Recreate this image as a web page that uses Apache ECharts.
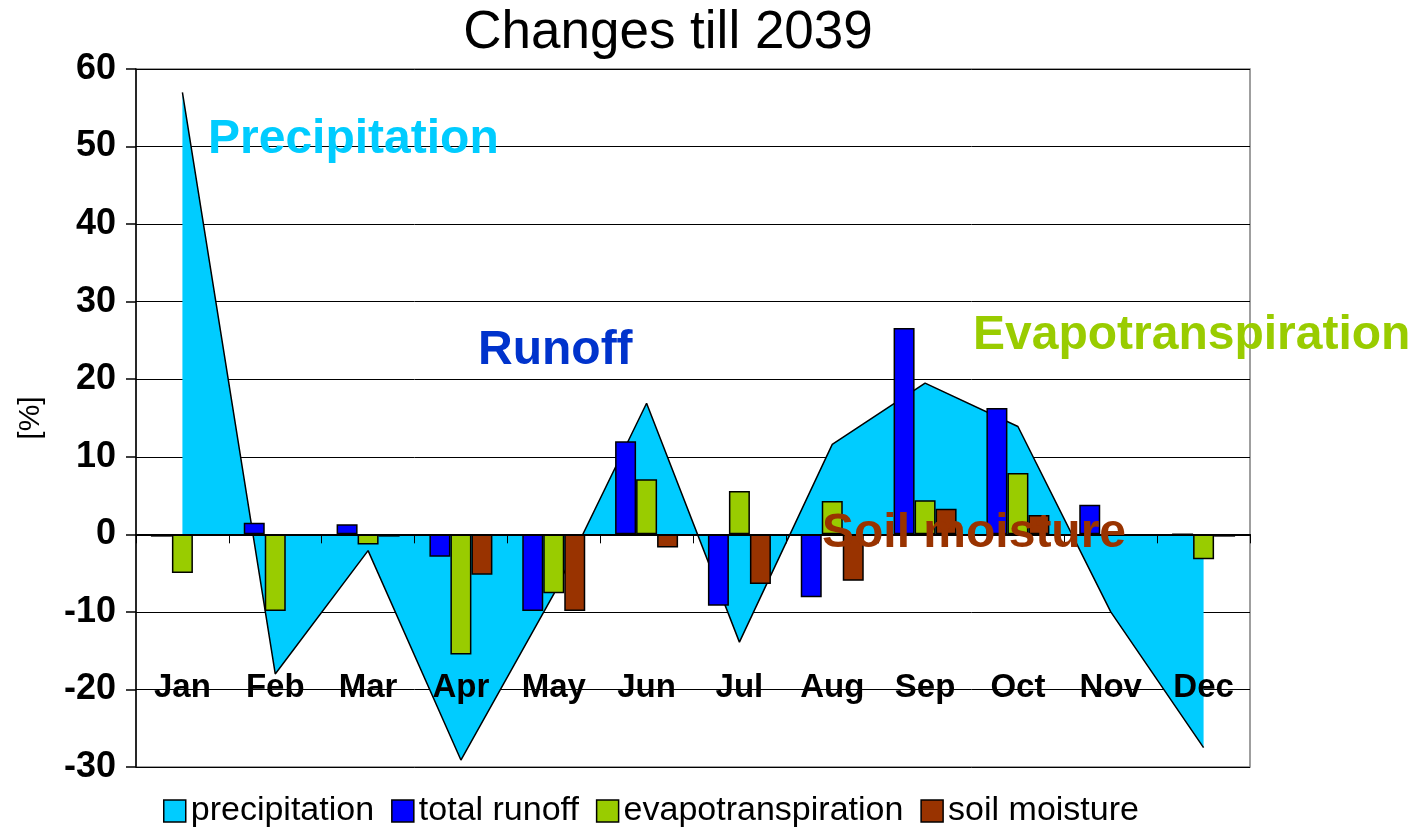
<!DOCTYPE html>
<html>
<head>
<meta charset="utf-8">
<script src="https://cdn.jsdelivr.net/npm/echarts@6/dist/echarts.min.js"></script>
<style>
  html, body { margin: 0; padding: 0; background: #fff; }
  #main { width: 1418px; height: 830px; }
</style>
</head>
<body>
<div id="main"></div>
<script>
// data
var months = ['Jan', 'Feb', 'Mar', 'Apr', 'May', 'Jun', 'Jul', 'Aug', 'Sep', 'Oct', 'Nov', 'Dec'];
var precipitation = [57, -18, -2.1, -29.1, -7.7, 16.9, -13.9, 11.6, 19.5, 13.9, -10, -27.5];
var totalRunoff = [-0.3, 1.5, 1.3, -2.9, -9.9, 12.0, -9.2, -8.1, 26.6, 16.3, 3.8, 0];
var evapotranspiration = [-5, -9.9, -1.3, -15.5, -7.6, 7.1, 5.6, 4.3, 4.4, 7.9, -0.2, -3.2];
var soilMoisture = [-0.2, -0.1, -0.3, -5.2, -9.9, -1.7, -6.4, -6.0, 3.3, 2.5, -0.2, -0.3];
var yTicks = { min: -30, max: 60, step: 10 };

var font = '"Liberation Sans", Arial, sans-serif';
var myChart = echarts.init(document.getElementById('main'));

function bar(name, data, color) {
    return {
        name: name,
        type: 'bar',
        data: data,
        barWidth: 21,
        barGap: '0%',
        itemStyle: { color: color, borderColor: '#000', borderWidth: 1.5 }
    };
}

// big coloured labels inside the plot
function note(text, x, y, color) {
    return {
        type: 'text', left: x, top: y, z: 100,
        style: { text: text, fill: color, font: 'bold 48px ' + font }
    };
}

var option = {
    backgroundColor: '#fff',
    animation: false,
    title: {
        text: 'Changes till 2039',
        left: 663, top: 2, textAlign: 'center',
        textStyle: { fontFamily: font, fontSize: 53, fontWeight: 'normal', color: '#000' }
    },
    grid: {
        left: 136, right: 168, top: 69, bottom: 63,
        outerBoundsMode: 'none',
        show: true, borderColor: '#808080', borderWidth: 1.5
    },
    legend: {
        bottom: -3, left: 158,
        icon: 'rect', itemWidth: 22, itemHeight: 22, itemGap: 17,
        itemStyle: { borderColor: '#000', borderWidth: 1.5 },
        textStyle: { fontFamily: font, fontSize: 34, color: '#000' },
        data: ['precipitation', 'total runoff', 'evapotranspiration', 'soil moisture']
    },
    xAxis: {
        type: 'category',
        data: months,
        z: 20,
        axisLine: { onZero: true, lineStyle: { color: '#000', width: 2 } },
        axisTick: { show: true, length: 9, lineStyle: { color: '#000', width: 1 } },
        axisLabel: { margin: -96, fontFamily: font, fontSize: 33, fontWeight: 'bold', color: '#000' },
        splitLine: { show: false }
    },
    yAxis: {
        type: 'value',
        min: yTicks.min, max: yTicks.max, interval: yTicks.step,
        name: '[%]', nameLocation: 'middle', nameGap: 90, nameRotate: 90,
        nameTextStyle: { fontFamily: font, fontSize: 30, color: '#000' },
        axisLine: { show: true, lineStyle: { color: '#000', width: 1.5 } },
        axisTick: { show: true, length: 10, lineStyle: { color: '#000', width: 1.5 } },
        axisLabel: { margin: 20, fontFamily: font, fontSize: 36, fontWeight: 'bold', color: '#000' },
        splitLine: { lineStyle: { color: '#000', width: 1 } }
    },
    graphic: [
        note('Precipitation', 208, 116, '#00CCFF'),
        note('Runoff', 478, 327, '#0033CC'),
        note('Evapotranspiration', 973, 312, '#99CC00'),
        note('Soil moisture', 822, 510, '#993300')
    ],
    series: [
        {
            name: 'precipitation',
            type: 'line',
            data: precipitation,
            symbol: 'none',
            lineStyle: { color: '#000', width: 1.5 },
            itemStyle: { color: '#00CCFF' },
            areaStyle: { color: '#00CCFF', opacity: 1, origin: 0 },
            z: 1
        },
        bar('total runoff', totalRunoff, '#0000FF'),
        bar('evapotranspiration', evapotranspiration, '#99CC00'),
        bar('soil moisture', soilMoisture, '#993300')
    ]
};

myChart.setOption(option);
</script>
</body>
</html>
